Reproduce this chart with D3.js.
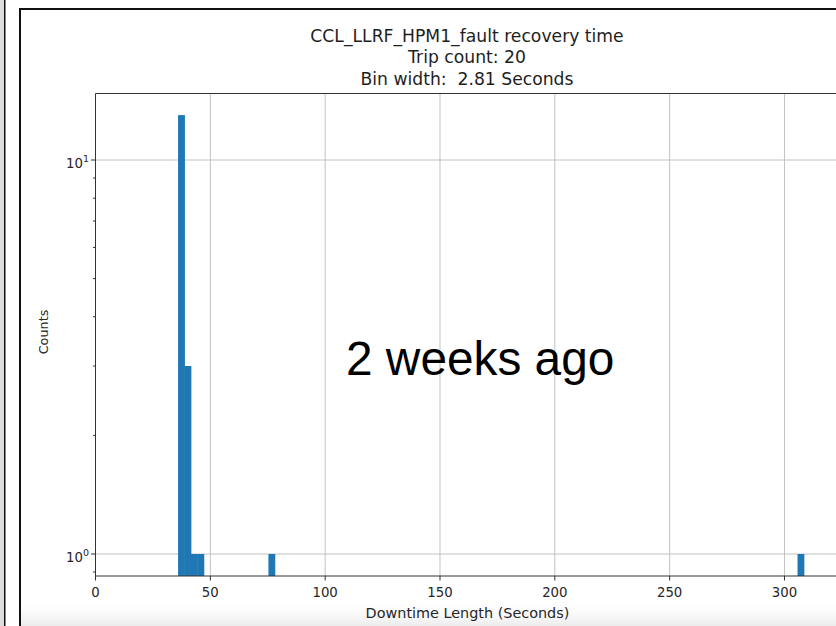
<!DOCTYPE html>
<html><head><meta charset="utf-8">
<script src="https://cdn.jsdelivr.net/npm/d3@7"></script>
<style>html,body{margin:0;padding:0;background:#fff;}svg{display:block;} text{white-space:pre;}</style>
</head><body>
<script>
// ---- data ----
const binLefts = [35.95, 38.76, 41.57, 44.38, 75.29, 305.67];
const counts   = [13, 3, 1, 1, 1, 1];
const binWidth = 2.81;
const xTicks = [0, 50, 100, 150, 200, 250, 300];
const yTicks = [1, 10];
const yTickLabels = [["10","0"],["10","1"]];
const xLimit = [0, 323.3];
const yLimit = [0.8794, 14.75];
const titleLines = ["CCL_LLRF_HPM1_fault recovery time", "Trip count: 20", "Bin width:  2.81 Seconds"];
const xLabel = "Downtime Length (Seconds)";
const yLabel = "Counts";
const overlayText = "2 weeks ago";

(function(){
const W = 836, H = 626;
const svg = d3.select("body").append("svg").attr("width", W).attr("height", H);

// background decorations (screenshot frame)
const defs = svg.append("defs");
const g1 = defs.append("linearGradient").attr("id","fade").attr("x1",0).attr("y1",0).attr("x2",0).attr("y2",1);
g1.append("stop").attr("offset","0%").attr("stop-color","#fff").attr("stop-opacity",0);
g1.append("stop").attr("offset","100%").attr("stop-color","#ececec").attr("stop-opacity",1);
svg.append("rect").attr("x",0).attr("y",0).attr("width",4).attr("height",H).attr("fill","#dcdcdc");
svg.append("rect").attr("x",20).attr("y",598).attr("width",W).attr("height",28).attr("fill","url(#fade)");
svg.append("line").attr("x1",4.75).attr("x2",4.75).attr("y1",0).attr("y2",H).attr("stroke","#111").attr("stroke-width",1.5);
svg.append("rect").attr("x",20).attr("y",9).attr("width",W).attr("height",H+10)
  .attr("fill","none").attr("stroke","#111").attr("stroke-width",2);

const pl = 95.5, pr = 838, pt = 93.5, pb = 576;
const x = d3.scaleLinear().domain(xLimit).range([pl, pr]);
const y = d3.scaleLog().domain(yLimit).range([pb, pt]);

svg.append("clipPath").attr("id","clip").append("rect")
  .attr("x",pl).attr("y",pt).attr("width",pr-pl).attr("height",pb-pt);

// grid
const grid = svg.append("g").attr("stroke","#b0b0b0").attr("stroke-width",0.9).attr("opacity",0.85);
xTicks.forEach(t => grid.append("line").attr("x1",x(t)).attr("x2",x(t)).attr("y1",pt).attr("y2",pb));
yTicks.forEach(t => grid.append("line").attr("x1",pl).attr("x2",pr).attr("y1",y(t)).attr("y2",y(t)));

// bars
svg.append("g").attr("clip-path","url(#clip)").selectAll("rect")
  .data(binLefts.map((b,i)=>({b, c: counts[i]})))
  .join("rect")
  .attr("x", d => x(d.b))
  .attr("width", d => x(d.b + binWidth) - x(d.b) + 0.4)
  .attr("y", d => y(d.c))
  .attr("height", d => pb + 5 - y(d.c))
  .attr("fill", "#1f77b4");

// overlay text
svg.append("text").attr("x",346).attr("y",375)
  .attr("font-family","'Liberation Sans', Arial, sans-serif").attr("font-size",47.8)
  .attr("fill","#000").text(overlayText);

// axes spines
const ax = svg.append("g").attr("stroke","#333").attr("stroke-width",1).attr("fill","none");
ax.append("line").attr("x1",pl).attr("x2",pl).attr("y1",pt).attr("y2",pb);
ax.append("line").attr("x1",pl).attr("x2",pr).attr("y1",pb).attr("y2",pb);
ax.append("line").attr("x1",pl).attr("x2",pr).attr("y1",pt).attr("y2",pt);

// x ticks
const font = "'DejaVu Sans', sans-serif";
xTicks.forEach(t => {
  ax.append("line").attr("x1",x(t)).attr("x2",x(t)).attr("y1",pb).attr("y2",pb+4.5);
  svg.append("text").attr("x",x(t)).attr("y",597).attr("text-anchor","middle")
    .attr("font-family",font).attr("font-size",13.3).attr("fill","#262626").text(t);
});
// y major ticks
yTicks.forEach((t,i) => {
  ax.append("line").attr("x1",pl-4.5).attr("x2",pl).attr("y1",y(t)).attr("y2",y(t));
  const tx = svg.append("text").attr("x",89).attr("y",y(t)+7.5).attr("text-anchor","end")
    .attr("font-family",font).attr("font-size",13.3).attr("fill","#262626");
  tx.append("tspan").text(yTickLabels[i][0]);
  tx.append("tspan").attr("dy",-6).attr("font-size",9.5).text(yTickLabels[i][1]);
});
// y minor ticks
const minor = [];
[0.1, 1].forEach(dec => { for (let k = 2; k <= 9; k++) minor.push(k*dec); });
minor.filter(v => v >= yLimit[0] && v <= yLimit[1]).forEach(v => {
  ax.append("line").attr("x1",pl-2.5).attr("x2",pl).attr("y1",y(v)).attr("y2",y(v));
});

// labels
svg.append("text").attr("x",467.5).attr("y",617.5).attr("text-anchor","middle")
  .attr("font-family",font).attr("font-size",14.4).attr("fill","#262626").text(xLabel);
svg.append("text").attr("transform","translate(48,332) rotate(-90)").attr("text-anchor","middle")
  .attr("font-family",font).attr("font-size",12.8).attr("fill","#262626").text(yLabel);
titleLines.forEach((s,i) => {
  svg.append("text").attr("x",467).attr("y",41.5 + i*21.5).attr("text-anchor","middle")
    .attr("font-family",font).attr("font-size",17.2).attr("fill","#1e1e1e").text(s);
});
})();
</script>
</body></html>
